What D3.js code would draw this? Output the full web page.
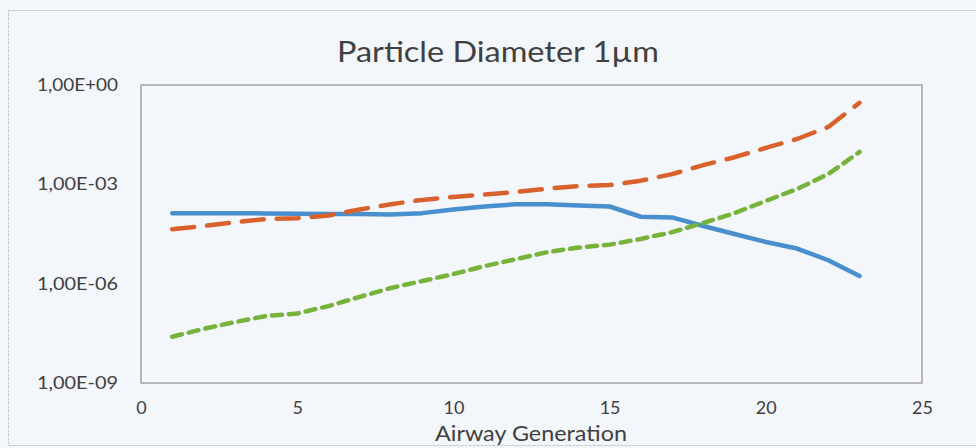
<!DOCTYPE html>
<html><head><meta charset="utf-8">
<script src="https://cdn.jsdelivr.net/npm/d3@7"></script>
<style>
html,body{margin:0;padding:0;background:#f3f6fb;}
svg{display:block;}
text{font-family:Lato,"Open Sans",sans-serif;fill:#404040;}
</style></head>
<body>
<svg id="c" width="976" height="448"></svg>
<script>
const generations = [1,2,3,4,5,6,7,8,9,10,11,12,13,14,15,16,17,18,19,20,21,22,23];
const seriesBlue = [1.35e-4,1.35e-4,1.35e-4,1.32e-4,1.29e-4,1.26e-4,1.26e-4,1.23e-4,1.35e-4,1.74e-4,2.14e-4,2.51e-4,2.51e-4,2.29e-4,2.14e-4,1.05e-4,1.0e-4,5.5e-5,3.16e-5,1.82e-5,1.15e-5,5.1e-6,1.7e-6];
const seriesOrange = [4.37e-5,5.5e-5,7.2e-5,8.9e-5,9.5e-5,1.15e-4,1.74e-4,2.51e-4,3.39e-4,4.17e-4,4.9e-4,5.9e-4,7.4e-4,8.9e-4,9.5e-4,1.29e-3,2.04e-3,3.8e-3,6.6e-3,1.26e-2,2.34e-2,5.4e-2,0.29];
const seriesGreen = [2.5e-8,4.3e-8,6.9e-8,1.05e-7,1.26e-7,2.1e-7,4.0e-7,7.4e-7,1.2e-6,1.95e-6,3.4e-6,5.5e-6,8.9e-6,1.23e-5,1.51e-5,2.24e-5,3.6e-5,6.8e-5,1.35e-4,3.16e-4,7.2e-4,2.04e-3,9.5e-3];
const xTicks = [0,5,10,15,20,25];
const yTicks = [1e0,1e-3,1e-6,1e-9];
const yTickLabels = ["1,00E+00","1,00E-03","1,00E-06","1,00E-09"];
const title = "Particle Diameter 1\u00b5m";
const xTitle = "Airway Generation";

const svg = d3.select("#c");
const L=141, R=922, T=85, B=383;
const x = d3.scaleLinear().domain([0,25]).range([L,R]);
const y = d3.scaleLog().domain([1e-9,1]).range([B,T]);

// outer chart border
svg.append("rect").attr("x",8.5).attr("y",10.5).attr("width",980).attr("height",435)
  .attr("fill","none").attr("stroke","#c4c6cc").attr("stroke-width",1).attr("stroke-dasharray","3,1");

// plot area
svg.append("rect").attr("x",L).attr("y",T).attr("width",R-L).attr("height",B-T)
  .attr("fill","none").attr("stroke","#9a9497").attr("stroke-width",1.3);

svg.append("text").attr("x",498).attr("y",62).attr("text-anchor","middle")
  .attr("font-size",28).attr("textLength",322).attr("lengthAdjust","spacingAndGlyphs").text(title);

const yAxis = d3.axisLeft(y).tickValues(yTicks).tickSize(0).tickPadding(23)
  .tickFormat((d,i)=>yTickLabels[i]);
const gy = svg.append("g").attr("transform",`translate(${L},0)`).call(yAxis);
gy.select(".domain").remove();
gy.selectAll("text").attr("font-size",17.5).attr("font-family","Lato,sans-serif").attr("fill","#404040")
  .attr("textLength",81).attr("lengthAdjust","spacingAndGlyphs");

const xAxis = d3.axisBottom(x).tickValues(xTicks).tickSize(0).tickPadding(18).tickFormat(d3.format("d"));
const gx = svg.append("g").attr("transform",`translate(0,${B})`).call(xAxis);
gx.select(".domain").remove();
gx.selectAll("text").attr("font-size",18).attr("font-family","Lato,sans-serif").attr("fill","#404040");

svg.append("text").attr("x",531).attr("y",441).attr("text-anchor","middle")
  .attr("font-size",21).attr("textLength",192).attr("lengthAdjust","spacingAndGlyphs").text(xTitle);

const line = d3.line().x((d,i)=>x(generations[i])).y(d=>y(d));
const series = [
  {v: seriesBlue, color:"#4a8fcd", dash:null},
  {v: seriesOrange, color:"#d8612c", dash:"22,13"},
  {v: seriesGreen, color:"#76b33a", dash:"10,7"}
];
series.forEach(s=>{
  svg.append("path").datum(s.v).attr("d",line).attr("fill","none")
    .attr("stroke",s.color).attr("stroke-width",4.5).attr("stroke-linecap","round")
    .attr("stroke-linejoin","round").attr("stroke-dasharray",s.dash);
});
</script>
</body></html>
